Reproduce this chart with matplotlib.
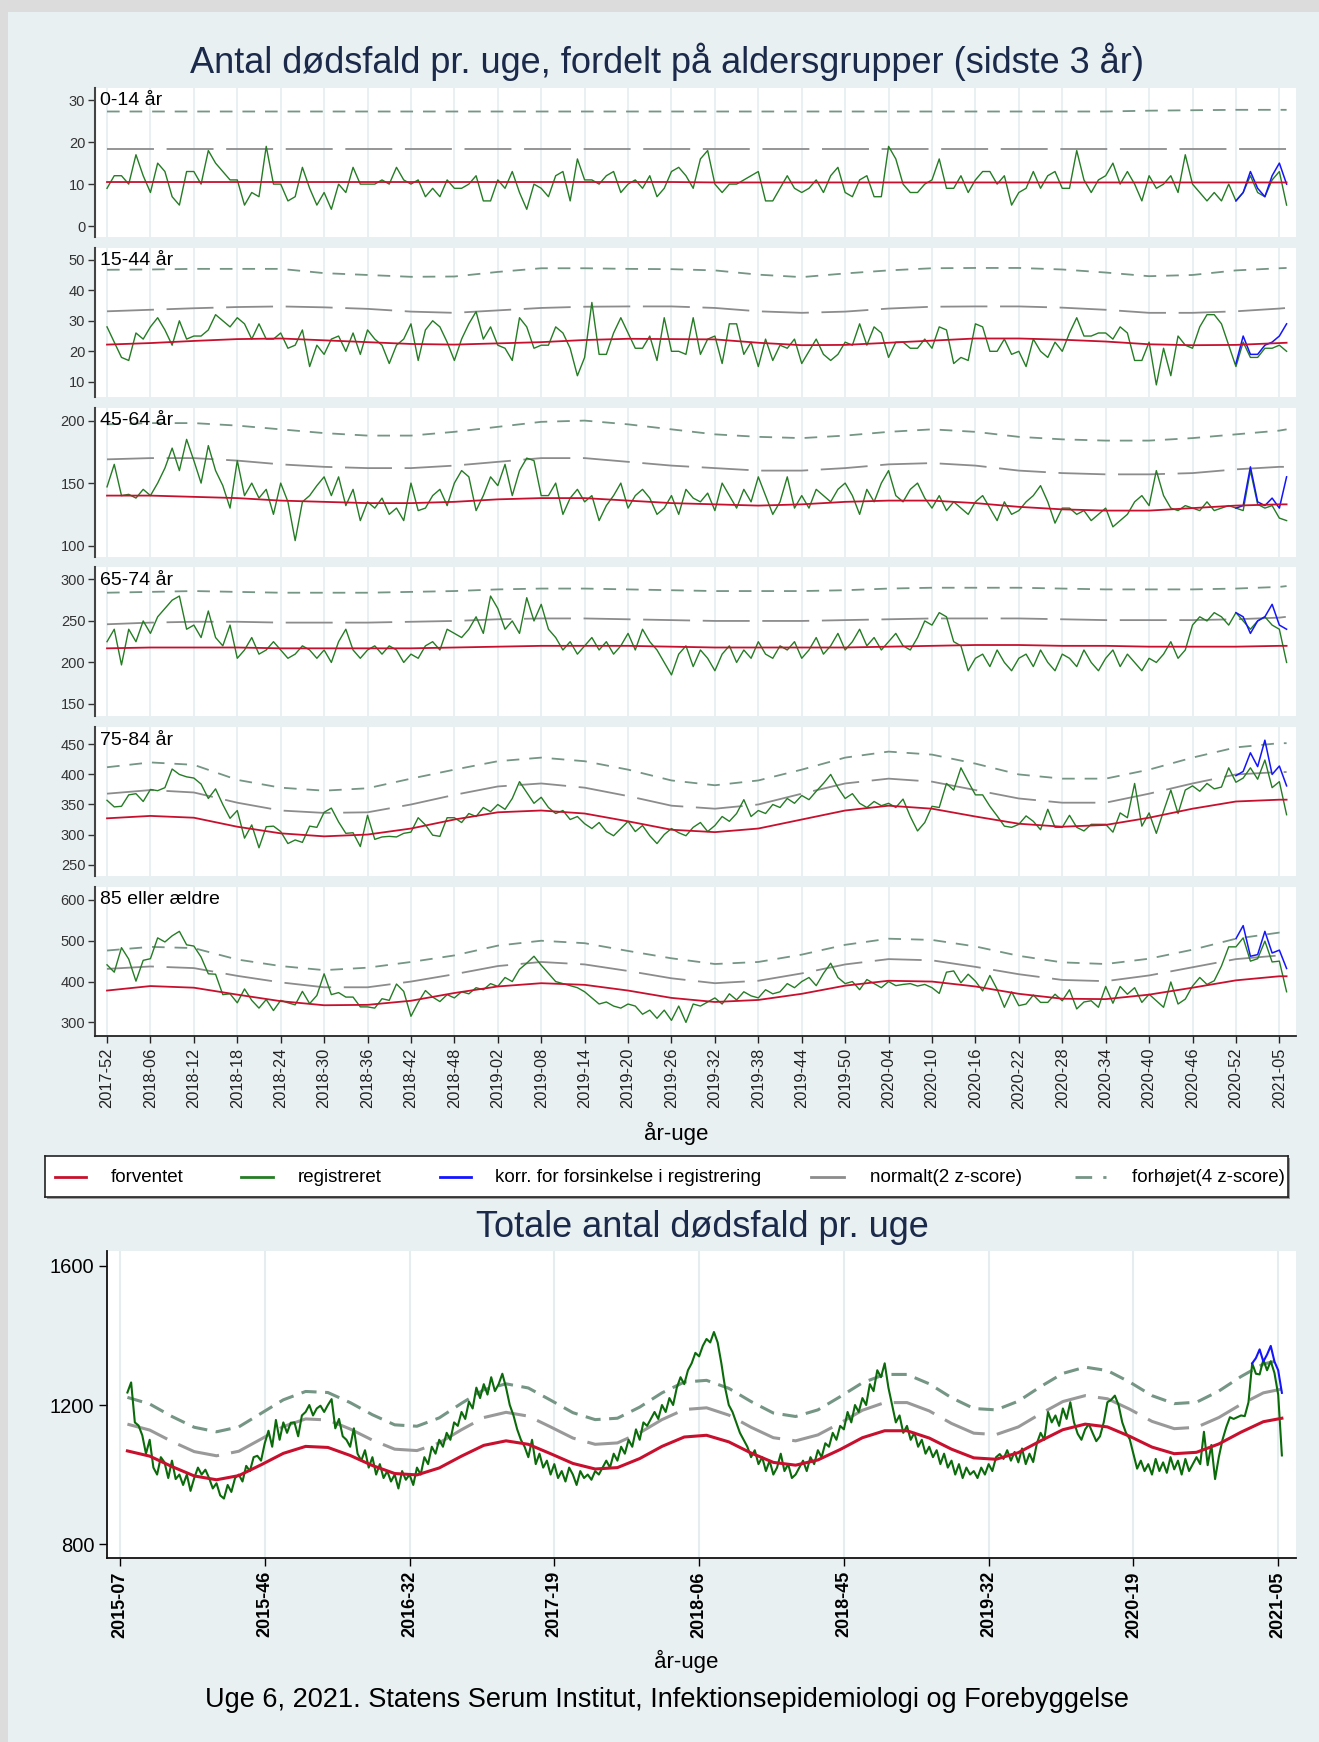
import matplotlib
matplotlib.use('Agg')
import matplotlib.pyplot as plt
from matplotlib.lines import Line2D
from matplotlib.patches import Rectangle

plt.rcParams['font.family'] = ['Liberation Sans', 'DejaVu Sans']

W, H = 1319, 1742

# ---------------- data: age groups, last 3 years ----------------
top_ticks = ['2017-52', '2018-06', '2018-12', '2018-18', '2018-24', '2018-30', '2018-36',
             '2018-42', '2018-48', '2019-02', '2019-08', '2019-14', '2019-20', '2019-26',
             '2019-32', '2019-38', '2019-44', '2019-50', '2020-04', '2020-10', '2020-16',
             '2020-22', '2020-28', '2020-34', '2020-40', '2020-46', '2020-52', '2021-05']
top_tick_weeks = list(range(0, 163, 6))
weeks_all = list(range(164))
korr_weeks = list(range(156, 164))
curve_weeks = list(range(0, 163, 6)) + [163]

# 0-14 år
reg_0_14 = [9, 12, 12, 10, 17, 12, 8, 15, 13, 7, 5, 13, 13, 10, 18, 15, 13, 11, 11, 5,
            8, 7, 19, 10, 10, 6, 7, 14, 9, 5, 8, 4, 10, 8, 14, 10, 10, 10, 11, 10,
            14, 11, 10, 11, 7, 9, 7, 11, 9, 9, 10, 12, 6, 6, 11, 9, 13, 8, 4, 10,
            9, 7, 12, 13, 6, 16, 11, 11, 10, 12, 13, 8, 10, 11, 9, 12, 7, 9, 13, 14,
            12, 9, 16, 18, 10, 8, 10, 10, 11, 12, 13, 6, 6, 9, 12, 9, 8, 9, 11, 8,
            12, 14, 8, 7, 11, 12, 7, 7, 19, 16, 10, 8, 8, 10, 11, 16, 9, 9, 12, 8,
            11, 13, 13, 10, 12, 5, 8, 9, 13, 9, 12, 13, 9, 9, 18, 11, 8, 11, 12, 15,
            10, 13, 10, 6, 12, 9, 10, 12, 8, 17, 10, 8, 6, 8, 6, 10, 6, 8, 12, 8,
            7, 11, 13, 5]
korr_0_14 = [6, 8, 13, 9, 7, 12, 15, 10]
exp_0_14 = [10.5] * 14 + [10.4] * 15
norm_0_14 = [18.3] * 29
high_0_14 = [27.3] * 24 + [27.5, 27.6, 27.7, 27.7, 27.7]

# 15-44 år
reg_15_44 = [28, 23, 18, 17, 26, 24, 28, 31, 27, 22, 30, 24, 25, 25, 27, 32, 30, 28, 31, 29,
             24, 29, 24, 24, 26, 21, 22, 27, 15, 22, 19, 24, 25, 20, 26, 19, 27, 24, 22, 16,
             22, 24, 29, 17, 27, 30, 28, 23, 17, 24, 29, 33, 24, 28, 22, 21, 17, 31, 28, 21,
             22, 22, 28, 26, 21, 12, 18, 36, 19, 19, 26, 31, 26, 21, 21, 25, 17, 31, 20, 20,
             19, 31, 19, 24, 25, 16, 29, 29, 19, 23, 15, 24, 17, 22, 21, 24, 16, 20, 24, 19,
             17, 19, 23, 22, 29, 22, 28, 26, 18, 23, 23, 21, 21, 24, 21, 28, 27, 16, 18, 17,
             29, 28, 20, 20, 24, 19, 20, 15, 24, 20, 18, 23, 20, 26, 31, 25, 25, 26, 26, 24,
             28, 26, 17, 17, 23, 9, 21, 12, 25, 22, 21, 28, 32, 32, 29, 22, 15, 23, 18, 18,
             21, 21, 22, 20]
korr_15_44 = [16, 25, 19, 19, 22, 23, 25, 29]
exp_15_44 = [22.2, 22.7, 23.4, 24.0, 24.2, 23.6, 23.0, 22.4, 22.2, 22.6, 23.0, 23.7, 24.1, 24.0,
             23.9, 22.8, 22.0, 22.1, 22.8, 23.5, 24.2, 24.2, 23.8, 23.2, 22.3, 22.0, 22.1, 22.7, 22.8]
norm_15_44 = [33.1, 33.6, 34.1, 34.5, 34.7, 34.4, 33.9, 33.0, 32.6, 33.4, 34.2, 34.6, 34.7, 34.7,
              34.2, 33.1, 32.6, 33.0, 34.0, 34.6, 34.7, 34.7, 34.3, 33.6, 32.6, 32.6, 33.1, 34.0, 34.2]
high_15_44 = [46.7, 46.8, 47.0, 47.0, 47.0, 45.6, 45.0, 44.4, 44.5, 46.0, 47.2, 47.2, 47.0, 46.9,
              46.5, 45.1, 44.3, 45.5, 46.5, 47.2, 47.3, 47.3, 46.8, 45.8, 44.6, 45.0, 46.5, 47.2, 47.3]

# 45-64 år
reg_45_64 = [147, 165, 140, 141, 138, 145, 140, 150, 162, 178, 160, 185, 168, 150, 180, 160, 148, 130,
             168, 140, 150, 138, 145, 125, 150, 135, 104, 135, 140, 148, 155, 140, 155, 132, 145, 120,
             135, 130, 138, 125, 130, 120, 150, 128, 130, 140, 145, 132, 150, 160, 155, 128, 140, 155,
             148, 165, 140, 160, 170, 168, 140, 140, 150, 125, 138, 145, 135, 140, 120, 132, 140, 150,
             130, 140, 145, 138, 125, 130, 140, 125, 145, 138, 135, 142, 128, 150, 140, 130, 145, 135,
             155, 140, 125, 135, 155, 130, 140, 130, 145, 140, 135, 145, 150, 140, 125, 145, 135, 150,
             160, 140, 135, 145, 150, 138, 130, 140, 128, 135, 130, 125, 135, 140, 130, 120, 135, 125,
             128, 135, 140, 148, 135, 118, 130, 130, 125, 128, 120, 125, 130, 115, 120, 125, 135, 140,
             132, 160, 140, 130, 128, 132, 130, 128, 135, 128, 130, 132, 130, 128, 160, 133, 130, 132,
             122, 120]
korr_45_64 = [130, 132, 163, 135, 132, 138, 130, 155]
exp_45_64 = [140, 140, 139, 138, 136, 135, 134, 134, 135, 137, 138, 138, 136, 134, 133, 132, 133, 135,
             136, 136, 134, 131, 129, 128, 128, 130, 132, 133, 133]
norm_45_64 = [169, 170, 170, 168, 165, 163, 162, 162, 164, 167, 170, 170, 167, 164, 162, 160, 160, 162,
              165, 166, 164, 160, 158, 157, 157, 158, 161, 163, 163]
high_45_64 = [197, 198, 198, 196, 193, 190, 188, 188, 191, 195, 199, 200, 197, 193, 189, 187, 186, 188,
              191, 193, 191, 187, 185, 184, 184, 186, 189, 192, 193]

# 65-74 år
reg_65_74 = [225, 240, 197, 240, 225, 250, 235, 255, 265, 275, 280, 240, 245, 230, 262, 230, 220, 245,
             205, 215, 230, 210, 215, 225, 215, 205, 210, 220, 215, 205, 215, 200, 225, 240, 215, 205,
             215, 220, 210, 220, 215, 200, 210, 205, 220, 225, 215, 240, 235, 230, 240, 255, 235, 280,
             265, 240, 250, 235, 278, 250, 270, 240, 230, 215, 225, 210, 220, 230, 215, 225, 210, 220,
             235, 215, 240, 225, 215, 200, 185, 210, 220, 195, 215, 205, 190, 210, 220, 200, 215, 205,
             225, 210, 205, 220, 215, 225, 205, 215, 230, 210, 220, 235, 215, 225, 240, 220, 230, 215,
             225, 235, 220, 215, 230, 250, 245, 260, 255, 225, 220, 190, 205, 210, 195, 215, 200, 190,
             205, 210, 195, 215, 200, 190, 210, 205, 195, 215, 200, 190, 205, 215, 195, 210, 200, 190,
             205, 200, 210, 225, 205, 215, 245, 255, 250, 260, 255, 245, 260, 250, 240, 250, 255, 245,
             240, 200]
korr_65_74 = [260, 255, 235, 250, 255, 270, 245, 240]
exp_65_74 = [217, 218, 218, 218, 217, 217, 217, 217, 218, 219, 220, 220, 220, 219, 218, 218, 218, 218,
             219, 220, 221, 221, 220, 220, 219, 219, 219, 220, 220]
norm_65_74 = [246, 248, 249, 249, 248, 248, 248, 249, 250, 252, 253, 253, 252, 251, 250, 250, 250, 251,
              252, 253, 253, 253, 252, 251, 251, 251, 252, 254, 255]
high_65_74 = [284, 285, 286, 285, 284, 284, 284, 285, 286, 288, 289, 289, 288, 287, 286, 286, 286, 287,
              289, 290, 290, 290, 289, 288, 288, 288, 289, 291, 292]

# 75-84 år
reg_75_84 = [357, 346, 347, 366, 368, 355, 375, 373, 378, 409, 400, 396, 394, 384, 360, 376, 350, 327,
             340, 294, 316, 278, 313, 314, 305, 285, 291, 287, 314, 312, 337, 344, 321, 302, 303, 280,
             332, 292, 296, 297, 296, 302, 304, 328, 316, 299, 297, 328, 328, 320, 335, 330, 345, 338,
             350, 342, 360, 388, 370, 352, 362, 345, 335, 340, 325, 330, 318, 310, 320, 305, 298, 310,
             322, 305, 315, 298, 285, 300, 310, 303, 298, 312, 320, 305, 315, 330, 322, 335, 358, 330,
             340, 335, 350, 345, 360, 352, 365, 358, 372, 385, 400, 378, 360, 368, 352, 345, 355, 348,
             352, 345, 359, 330, 306, 320, 347, 345, 385, 374, 411, 388, 366, 366, 347, 331, 314, 312,
             317, 331, 322, 308, 342, 312, 312, 332, 312, 306, 317, 317, 317, 304, 336, 328, 385, 314,
             336, 302, 339, 374, 335, 374, 381, 372, 385, 376, 379, 411, 387, 394, 411, 392, 424, 378,
             388, 333]
korr_75_84 = [398, 405, 436, 413, 457, 400, 414, 381]
exp_75_84 = [327, 331, 328, 313, 302, 297, 300, 310, 325, 337, 340, 335, 322, 308, 304, 310, 325, 340,
             348, 343, 330, 318, 313, 316, 328, 343, 355, 358, 358]
norm_75_84 = [368, 374, 370, 353, 340, 336, 337, 350, 366, 380, 385, 378, 364, 348, 343, 350, 368, 385,
              393, 388, 374, 360, 353, 353, 368, 385, 400, 404, 404]
high_75_84 = [412, 420, 416, 391, 378, 373, 377, 393, 408, 422, 428, 422, 408, 390, 382, 390, 408, 428,
              438, 433, 418, 400, 393, 393, 408, 428, 445, 452, 452]

# 85 eller ældre
reg_85 = [441, 423, 483, 455, 401, 452, 456, 507, 497, 512, 523, 490, 487, 460, 419, 418, 368, 370,
          348, 382, 354, 335, 356, 329, 354, 348, 343, 376, 346, 366, 419, 368, 373, 362, 362, 338,
          338, 335, 358, 354, 394, 376, 315, 349, 378, 362, 351, 368, 360, 375, 370, 385, 380, 395,
          388, 410, 400, 430, 445, 462, 440, 420, 400, 395, 390, 385, 375, 360, 345, 350, 340, 335,
          345, 340, 320, 330, 310, 330, 305, 340, 300, 345, 340, 350, 360, 345, 370, 355, 375, 365,
          360, 380, 370, 375, 395, 385, 400, 410, 390, 420, 445, 410, 395, 400, 380, 405, 395, 385,
          400, 390, 393, 395, 389, 393, 385, 371, 423, 426, 397, 418, 401, 377, 415, 381, 337, 375,
          341, 345, 367, 349, 349, 369, 353, 380, 333, 350, 353, 337, 388, 347, 388, 369, 385, 349,
          369, 353, 337, 399, 345, 357, 389, 410, 393, 402, 438, 485, 485, 507, 450, 456, 499, 448,
          450, 375]
korr_85 = [505, 537, 462, 466, 523, 470, 477, 432]
exp_85 = [378, 389, 385, 368, 352, 342, 343, 353, 372, 388, 396, 392, 378, 360, 350, 355, 370, 390,
          402, 400, 388, 370, 358, 357, 368, 385, 403, 413, 413]
norm_85 = [431, 437, 433, 414, 398, 386, 386, 400, 418, 438, 448, 442, 426, 408, 396, 402, 420, 442,
           455, 452, 436, 418, 404, 401, 415, 435, 455, 464, 464]
high_85 = [476, 485, 482, 454, 438, 428, 434, 448, 464, 488, 500, 494, 475, 457, 443, 448, 466, 490,
           505, 502, 486, 463, 447, 443, 456, 478, 505, 520, 520]

# ---------------- data: total, since 2015 ----------------
total_ticks = ['2015-07', '2015-46', '2016-32', '2017-19', '2018-06', '2018-45', '2019-32',
               '2020-19', '2021-05']
total_tick_weeks = list(range(0, 313, 39))
total_curve_weeks = list(range(2, 309, 6)) + [313]
total_reg_weeks = list(range(2, 314))
total_korr_weeks = list(range(305, 314))

total_exp = [1068, 1053, 1023, 996, 985, 997, 1028, 1061, 1081, 1078, 1055, 1026, 1003, 999, 1019,
             1053, 1084, 1097, 1087, 1060, 1032, 1016, 1020, 1046, 1081, 1108, 1113, 1094, 1062, 1035,
             1027, 1042, 1072, 1106, 1126, 1126, 1105, 1073, 1048, 1044, 1063, 1097, 1129, 1145, 1137,
             1110, 1079, 1060, 1064, 1088, 1122, 1152, 1162]
total_norm = [1145, 1128, 1095, 1066, 1054, 1067, 1102, 1138, 1160, 1157, 1131, 1099, 1073, 1069, 1091,
              1129, 1164, 1179, 1168, 1137, 1105, 1087, 1091, 1120, 1158, 1187, 1192, 1171, 1136, 1106,
              1097, 1114, 1148, 1185, 1207, 1207, 1183, 1147, 1119, 1115, 1137, 1175, 1210, 1227, 1218,
              1188, 1153, 1132, 1136, 1164, 1202, 1235, 1246]
total_high = [1222, 1203, 1167, 1136, 1123, 1137, 1176, 1215, 1239, 1236, 1207, 1172, 1143, 1139, 1163,
              1205, 1244, 1261, 1249, 1214, 1178, 1158, 1162, 1194, 1235, 1266, 1271, 1248, 1210, 1177,
              1167, 1186, 1224, 1264, 1288, 1288, 1261, 1221, 1190, 1186, 1211, 1253, 1291, 1309, 1299,
              1266, 1227, 1204, 1208, 1240, 1282, 1318, 1330]
total_reg = [1236, 1265, 1150, 1141, 1113, 1060, 1100, 1020, 1000, 1050,
             1035, 990, 1040, 987, 1000, 970, 1000, 953, 990, 1020,
             1000, 1014, 990, 960, 975, 940, 931, 970, 950, 990,
             1000, 980, 1025, 1010, 1050, 1054, 1040, 1090, 1126, 1080,
             1157, 1100, 1150, 1120, 1149, 1150, 1110, 1170, 1180, 1200,
             1170, 1190, 1198, 1180, 1200, 1217, 1133, 1160, 1110, 1100,
             1080, 1133, 1060, 1040, 1070, 1020, 1050, 1000, 1030, 990,
             1010, 980, 1000, 960, 1010, 985, 1000, 970, 1020, 1000,
             1050, 1030, 1080, 1060, 1100, 1080, 1120, 1100, 1150, 1140,
             1180, 1160, 1210, 1190, 1250, 1220, 1260, 1230, 1280, 1240,
             1260, 1290, 1250, 1200, 1170, 1130, 1100, 1080, 1050, 1100,
             1030, 1060, 1020, 1040, 1000, 1030, 990, 1010, 980, 1020,
             1000, 970, 1010, 990, 1000, 985, 1010, 1000, 1020, 1040,
             1020, 1060, 1040, 1080, 1060, 1100, 1080, 1130, 1100, 1150,
             1140, 1160, 1180, 1160, 1200, 1180, 1220, 1200, 1250, 1280,
             1260, 1300, 1320, 1350, 1340, 1370, 1390, 1380, 1410, 1380,
             1320, 1250, 1200, 1180, 1150, 1120, 1100, 1080, 1050, 1070,
             1030, 1050, 1010, 1040, 1000, 1020, 1060, 1010, 1030, 990,
             1000, 1020, 1040, 1010, 1050, 1030, 1070, 1050, 1090, 1080,
             1120, 1100, 1140, 1130, 1180, 1150, 1200, 1180, 1220, 1200,
             1260, 1240, 1300, 1280, 1320, 1250, 1200, 1150, 1170, 1120,
             1140, 1100, 1120, 1080, 1100, 1060, 1080, 1050, 1070, 1030,
             1060, 1020, 1040, 1000, 1030, 990, 1020, 1000, 1010, 990,
             1020, 1000, 1030, 1010, 1050,
             1059, 1045, 1070, 1040, 1065, 1035, 1075, 1030, 1060, 1036,
             1090, 1120, 1100, 1180, 1150, 1170, 1140, 1190, 1160, 1208,
             1150, 1117, 1100, 1130, 1145, 1120, 1096, 1110, 1150, 1208,
             1215, 1227, 1200, 1150, 1120, 1102, 1060, 1017, 1040, 1010,
             1030, 1000, 1045, 1010, 1035, 1005, 1050, 1015, 1040, 1000,
             1045, 1010, 1030, 1050, 1030, 1123, 1027, 1085, 987, 1050,
             1100, 1136, 1165, 1160, 1165, 1170, 1168, 1208, 1320, 1290,
             1288, 1330, 1300, 1326, 1292, 1230, 1055]
total_korr = [1320, 1335, 1360, 1325, 1345, 1370, 1325, 1300, 1235]

# ---------------- styles ----------------
C_EXP = '#c8102e'
C_REG = '#257c25'
C_KORR = '#1414ff'
C_NORM = '#8c8c8c'
C_HIGH = '#759585'
C_GRID = '#e5edef'

fig = plt.figure(figsize=(W / 100, H / 100), dpi=100)
fig.patch.set_facecolor('#dcdcdc')
fig.add_artist(Rectangle((8 / W, 0), 1, 1 - 12 / H, transform=fig.transFigure,
                         facecolor='#e9f0f2', edgecolor='none', zorder=-10))


def px_axes(l, t, r, b):
    return fig.add_axes([l / W, 1 - b / H, (r - l) / W, (b - t) / H])


panels = [
    ('0-14 år', reg_0_14, korr_0_14, exp_0_14, norm_0_14, high_0_14, (-2.6, 32.9), [0, 10, 20, 30]),
    ('15-44 år', reg_15_44, korr_15_44, exp_15_44, norm_15_44, high_15_44, (5.1, 53.9), [10, 20, 30, 40, 50]),
    ('45-64 år', reg_45_64, korr_45_64, exp_45_64, norm_45_64, high_45_64, (91.2, 210.4), [100, 150, 200]),
    ('65-74 år', reg_65_74, korr_65_74, exp_65_74, norm_65_74, high_65_74, (135, 314.5), [150, 200, 250, 300]),
    ('75-84 år', reg_75_84, korr_75_84, exp_75_84, norm_75_84, high_75_84, (230.7, 478.6), [250, 300, 350, 400, 450]),
    ('85 eller ældre', reg_85, korr_85, exp_85, norm_85, high_85, (266.7, 631.6), [300, 400, 500, 600]),
]

for k, (label, reg, korr, exp, norm, high, ylim, yt) in enumerate(panels):
    top = 88 + 159.8 * k
    ax = px_axes(95, top, 1296, top + 149)
    ax.set_facecolor('white')
    ax.plot(curve_weeks, high, color=C_HIGH, lw=1.3, dashes=(7, 5.5))
    ax.plot(curve_weeks, norm, color=C_NORM, lw=1.3, dashes=(26, 7))
    ax.plot(weeks_all, reg, color=C_REG, lw=1.0)
    ax.plot(korr_weeks, korr, color=C_KORR, lw=1.1)
    ax.plot(curve_weeks, exp, color=C_EXP, lw=1.3)
    ax.set_xlim(-1.66, 164.3)
    ax.set_ylim(*ylim)
    ax.set_yticks(yt)
    ax.set_xticks(top_tick_weeks)
    ax.grid(axis='x', color=C_GRID, lw=1.2)
    ax.set_axisbelow(True)
    for s in ['top', 'right', 'bottom']:
        ax.spines[s].set_visible(False)
    ax.spines['left'].set_color('#444444')
    ax.spines['left'].set_linewidth(1.5)
    ax.tick_params(axis='y', labelsize=10.5, colors='#333333', length=5, width=1, pad=2)
    ax.text(0.004, 0.97, label, transform=ax.transAxes, va='top', ha='left', fontsize=14)
    if k == 5:
        ax.spines['bottom'].set_visible(True)
        ax.spines['bottom'].set_color('#222222')
        ax.spines['bottom'].set_linewidth(1.3)
        ax.set_xticklabels(top_ticks, rotation=90, fontsize=11.8)
        ax.tick_params(axis='x', length=5, width=1, colors='#222222')
    else:
        ax.tick_params(axis='x', length=0, labelbottom=False)

fig.text(667 / W, 1 - 62 / H, 'Antal dødsfald pr. uge, fordelt på aldersgrupper (sidste 3 år)',
         ha='center', va='center', fontsize=26, color='#1b2a4a')
fig.text(676 / W, 1 - 1133 / H, 'år-uge', ha='center', va='center', fontsize=16)

# legend box
fig.add_artist(Rectangle((47 / W, 1 - 1199 / H), (1288 - 45) / W, 41 / H, transform=fig.transFigure,
                         facecolor='#9a9a9a', edgecolor='none', zorder=-5))
lax = px_axes(45, 1156, 1288, 1197)
lax.set_xlim(45, 1288)
lax.set_ylim(1197, 1156)
lax.set_xticks([])
lax.set_yticks([])
lax.set_facecolor('white')
for s in lax.spines.values():
    s.set_color('#222222')
    s.set_linewidth(1.2)
leg_items = [
    ('forventet', C_EXP, None, 55, 86, 111),
    ('registreret', C_REG, None, 241, 273, 298),
    ('korr. for forsinkelse i registrering', C_KORR, None, 440, 471, 495),
    ('normalt(2 z-score)', C_NORM, None, 811, 844, 870),
    ('forhøjet(4 z-score)', C_HIGH, (6, 4), 1075, 1106, 1132),
]
for name, col, dash, x0, x1, xt in leg_items:
    ln = Line2D([x0, x1], [1177, 1177], color=col, lw=2)
    if dash:
        ln.set_dashes(dash)
    lax.add_line(ln)
    lax.text(xt, 1177, name, ha='left', va='center', fontsize=13.5)

# total panel
fig.text(702 / W, 1 - 1227 / H, 'Totale antal dødsfald pr. uge', ha='center', va='center',
         fontsize=26, color='#1b2a4a')
tax = px_axes(107, 1251, 1296, 1558)
tax.set_facecolor('white')
tax.plot(total_curve_weeks, total_high, color=C_HIGH, lw=2.2, dashes=(5, 2.8))
tax.plot(total_curve_weeks, total_norm, color='#999999', lw=2.2, dashes=(14, 4))
tax.plot(total_reg_weeks, total_reg, color='#0b6b0b', lw=1.5)
tax.plot(total_korr_weeks, total_korr, color=C_KORR, lw=1.5)
tax.plot(total_curve_weeks, total_exp, color=C_EXP, lw=2.2)
tax.set_xlim(-3.5, 316.8)
tax.set_ylim(760, 1643)
tax.set_yticks([800, 1200, 1600])
tax.set_xticks(total_tick_weeks)
tax.set_xticklabels(total_ticks, rotation=90, fontsize=13, fontweight='bold')
tax.grid(axis='x', color=C_GRID, lw=1.5)
tax.set_axisbelow(True)
for s in ['top', 'right']:
    tax.spines[s].set_visible(False)
for s in ['left', 'bottom']:
    tax.spines[s].set_color('#111111')
    tax.spines[s].set_linewidth(1.3)
tax.tick_params(axis='y', labelsize=14.5, length=6, width=1, pad=3)
tax.tick_params(axis='x', length=6, width=1)

fig.text(686 / W, 1 - 1661 / H, 'år-uge', ha='center', va='center', fontsize=16)
fig.text(667 / W, 1 - 1700 / H, 'Uge 6, 2021. Statens Serum Institut, Infektionsepidemiologi og Forebyggelse',
         ha='center', va='center', fontsize=19.5)

fig.savefig('out.png', dpi=100, facecolor=fig.get_facecolor())
